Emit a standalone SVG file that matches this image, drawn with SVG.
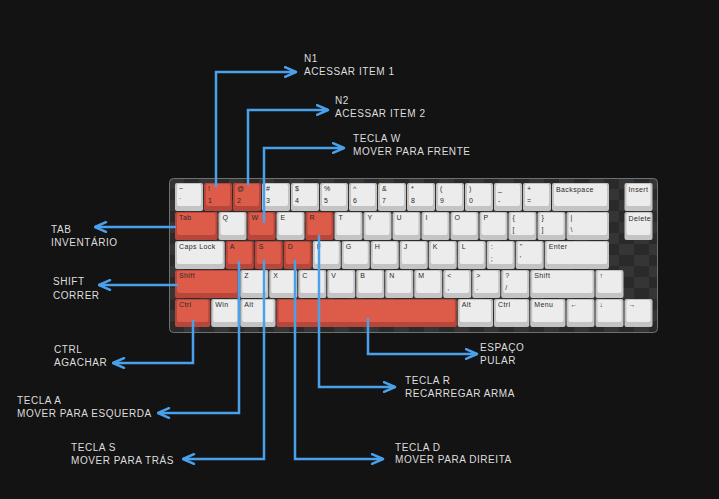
<svg xmlns="http://www.w3.org/2000/svg" width="719" height="499" viewBox="0 0 719 499">
<defs>
<style>
.w{fill:#c4c4c4}.wf{fill:#ececec}.r{fill:#b8463a}.rf{fill:#dc5b49}
.t{font-family:"Liberation Sans",Arial,sans-serif;font-size:7px;fill:#2a2a2a;letter-spacing:.4px}
.lb{font-family:"Liberation Sans",Arial,sans-serif;font-size:10px;fill:#dedede;letter-spacing:.55px}
.c{fill:none;stroke:#4aa0ea;stroke-width:2.5}
</style>
<pattern id="chk" x="169" y="178" width="30" height="22" patternUnits="userSpaceOnUse">
<rect width="30" height="22" fill="#2a2a2a"/>
<rect width="15" height="11" fill="#353535"/>
<rect x="15" y="11" width="15" height="11" fill="#353535"/>
</pattern>
<marker id="ah" viewBox="0 0 14 12" refX="12.5" refY="6" markerWidth="14" markerHeight="12" markerUnits="userSpaceOnUse" orient="auto">
<path d="M1.5,1.2 L12.5,6 L1.5,10.8" fill="none" stroke="#4aa0ea" stroke-width="2.5" stroke-linecap="round" stroke-linejoin="round"/>
</marker>
</defs>
<rect width="719" height="499" fill="#131313"/>
<g id="keyboard">
<rect x="169.5" y="178.5" width="488" height="154" rx="4" fill="url(#chk)" stroke="#707070" stroke-width="1"/>
<!-- Row 1 -->
<g id="k-grave" transform="translate(175,183)"><rect class="w" width="28" height="28" rx="2"/><rect class="wf" x="2" y="1" width="24" height="22" rx="2"/><text class="t" x="4" y="8">~</text><text class="t" x="4" y="20">`</text></g>
<g id="k-1" transform="translate(204,183)"><rect class="r" width="28" height="28" rx="2"/><rect class="rf" x="2" y="1" width="24" height="22" rx="2"/><text class="t" x="4" y="8">!</text><text class="t" x="4" y="20">1</text></g>
<g id="k-2" transform="translate(233,183)"><rect class="r" width="28" height="28" rx="2"/><rect class="rf" x="2" y="1" width="24" height="22" rx="2"/><text class="t" x="4" y="8">@</text><text class="t" x="4" y="20">2</text></g>
<g id="k-3" transform="translate(262,183)"><rect class="w" width="28" height="28" rx="2"/><rect class="wf" x="2" y="1" width="24" height="22" rx="2"/><text class="t" x="4" y="8">#</text><text class="t" x="4" y="20">3</text></g>
<g id="k-4" transform="translate(291,183)"><rect class="w" width="28" height="28" rx="2"/><rect class="wf" x="2" y="1" width="24" height="22" rx="2"/><text class="t" x="4" y="8">$</text><text class="t" x="4" y="20">4</text></g>
<g id="k-5" transform="translate(320,183)"><rect class="w" width="28" height="28" rx="2"/><rect class="wf" x="2" y="1" width="24" height="22" rx="2"/><text class="t" x="4" y="8">%</text><text class="t" x="4" y="20">5</text></g>
<g id="k-6" transform="translate(349,183)"><rect class="w" width="28" height="28" rx="2"/><rect class="wf" x="2" y="1" width="24" height="22" rx="2"/><text class="t" x="4" y="8">^</text><text class="t" x="4" y="20">6</text></g>
<g id="k-7" transform="translate(378,183)"><rect class="w" width="28" height="28" rx="2"/><rect class="wf" x="2" y="1" width="24" height="22" rx="2"/><text class="t" x="4" y="8">&amp;</text><text class="t" x="4" y="20">7</text></g>
<g id="k-8" transform="translate(407,183)"><rect class="w" width="28" height="28" rx="2"/><rect class="wf" x="2" y="1" width="24" height="22" rx="2"/><text class="t" x="4" y="8">*</text><text class="t" x="4" y="20">8</text></g>
<g id="k-9" transform="translate(436,183)"><rect class="w" width="28" height="28" rx="2"/><rect class="wf" x="2" y="1" width="24" height="22" rx="2"/><text class="t" x="4" y="8">(</text><text class="t" x="4" y="20">9</text></g>
<g id="k-0" transform="translate(465,183)"><rect class="w" width="28" height="28" rx="2"/><rect class="wf" x="2" y="1" width="24" height="22" rx="2"/><text class="t" x="4" y="8">)</text><text class="t" x="4" y="20">0</text></g>
<g id="k-minus" transform="translate(494,183)"><rect class="w" width="28" height="28" rx="2"/><rect class="wf" x="2" y="1" width="24" height="22" rx="2"/><text class="t" x="4" y="8">_</text><text class="t" x="4" y="20">-</text></g>
<g id="k-equal" transform="translate(523,183)"><rect class="w" width="28" height="28" rx="2"/><rect class="wf" x="2" y="1" width="24" height="22" rx="2"/><text class="t" x="4" y="8">+</text><text class="t" x="4" y="20">=</text></g>
<g id="k-backspace" transform="translate(552,183)"><rect class="w" width="57" height="28" rx="2"/><rect class="wf" x="2" y="1" width="53" height="22" rx="2"/><text class="t" x="4" y="8.5">Backspace</text></g>
<g id="k-insert" transform="translate(624.5,183)"><rect class="w" width="28" height="28" rx="2"/><rect class="wf" x="2" y="1" width="24" height="22" rx="2"/><text class="t" x="4" y="8.5">Insert</text></g>
<!-- Row 2 -->
<g id="k-tab" transform="translate(175,212)"><rect class="r" width="42.5" height="28" rx="2"/><rect class="rf" x="2" y="1" width="38.5" height="22" rx="2"/><text class="t" x="4" y="8">Tab</text></g>
<g id="k-q" transform="translate(218.5,212)"><rect class="w" width="28" height="28" rx="2"/><rect class="wf" x="2" y="1" width="24" height="22" rx="2"/><text class="t" x="4" y="8">Q</text></g>
<g id="k-w" transform="translate(247.5,212)"><rect class="r" width="28" height="28" rx="2"/><rect class="rf" x="2" y="1" width="24" height="22" rx="2"/><text class="t" x="4" y="8">W</text></g>
<g id="k-e" transform="translate(276.5,212)"><rect class="w" width="28" height="28" rx="2"/><rect class="wf" x="2" y="1" width="24" height="22" rx="2"/><text class="t" x="4" y="8">E</text></g>
<g id="k-r" transform="translate(305.5,212)"><rect class="r" width="28" height="28" rx="2"/><rect class="rf" x="2" y="1" width="24" height="22" rx="2"/><text class="t" x="4" y="8">R</text></g>
<g id="k-t" transform="translate(334.5,212)"><rect class="w" width="28" height="28" rx="2"/><rect class="wf" x="2" y="1" width="24" height="22" rx="2"/><text class="t" x="4" y="8">T</text></g>
<g id="k-y" transform="translate(363.5,212)"><rect class="w" width="28" height="28" rx="2"/><rect class="wf" x="2" y="1" width="24" height="22" rx="2"/><text class="t" x="4" y="8">Y</text></g>
<g id="k-u" transform="translate(392.5,212)"><rect class="w" width="28" height="28" rx="2"/><rect class="wf" x="2" y="1" width="24" height="22" rx="2"/><text class="t" x="4" y="8">U</text></g>
<g id="k-i" transform="translate(421.5,212)"><rect class="w" width="28" height="28" rx="2"/><rect class="wf" x="2" y="1" width="24" height="22" rx="2"/><text class="t" x="4" y="8">I</text></g>
<g id="k-o" transform="translate(450.5,212)"><rect class="w" width="28" height="28" rx="2"/><rect class="wf" x="2" y="1" width="24" height="22" rx="2"/><text class="t" x="4" y="8">O</text></g>
<g id="k-p" transform="translate(479.5,212)"><rect class="w" width="28" height="28" rx="2"/><rect class="wf" x="2" y="1" width="24" height="22" rx="2"/><text class="t" x="4" y="8">P</text></g>
<g id="k-lbracket" transform="translate(508.5,212)"><rect class="w" width="28" height="28" rx="2"/><rect class="wf" x="2" y="1" width="24" height="22" rx="2"/><text class="t" x="4" y="8">{</text><text class="t" x="4" y="20">[</text></g>
<g id="k-rbracket" transform="translate(537.5,212)"><rect class="w" width="28" height="28" rx="2"/><rect class="wf" x="2" y="1" width="24" height="22" rx="2"/><text class="t" x="4" y="8">}</text><text class="t" x="4" y="20">]</text></g>
<g id="k-backslash" transform="translate(566.5,212)"><rect class="w" width="42.5" height="28" rx="2"/><rect class="wf" x="2" y="1" width="38.5" height="22" rx="2"/><text class="t" x="4" y="8">|</text><text class="t" x="4" y="20">\</text></g>
<g id="k-delete" transform="translate(624.5,212)"><rect class="w" width="28" height="28" rx="2"/><rect class="wf" x="2" y="1" width="24" height="22" rx="2"/><text class="t" x="4" y="8.5">Delete</text></g>
<!-- Row 3 -->
<g id="k-caps" transform="translate(175,241)"><rect class="w" width="49.75" height="28" rx="2"/><rect class="wf" x="2" y="1" width="45.75" height="22" rx="2"/><text class="t" x="4" y="8">Caps Lock</text></g>
<g id="k-a" transform="translate(225.75,241)"><rect class="r" width="28" height="28" rx="2"/><rect class="rf" x="2" y="1" width="24" height="22" rx="2"/><text class="t" x="4" y="8">A</text></g>
<g id="k-s" transform="translate(254.75,241)"><rect class="r" width="28" height="28" rx="2"/><rect class="rf" x="2" y="1" width="24" height="22" rx="2"/><text class="t" x="4" y="8">S</text></g>
<g id="k-d" transform="translate(283.75,241)"><rect class="r" width="28" height="28" rx="2"/><rect class="rf" x="2" y="1" width="24" height="22" rx="2"/><text class="t" x="4" y="8">D</text></g>
<g id="k-f" transform="translate(312.75,241)"><rect class="w" width="28" height="28" rx="2"/><rect class="wf" x="2" y="1" width="24" height="22" rx="2"/><text class="t" x="4" y="8">F</text></g>
<g id="k-g" transform="translate(341.75,241)"><rect class="w" width="28" height="28" rx="2"/><rect class="wf" x="2" y="1" width="24" height="22" rx="2"/><text class="t" x="4" y="8">G</text></g>
<g id="k-h" transform="translate(370.75,241)"><rect class="w" width="28" height="28" rx="2"/><rect class="wf" x="2" y="1" width="24" height="22" rx="2"/><text class="t" x="4" y="8">H</text></g>
<g id="k-j" transform="translate(399.75,241)"><rect class="w" width="28" height="28" rx="2"/><rect class="wf" x="2" y="1" width="24" height="22" rx="2"/><text class="t" x="4" y="8">J</text></g>
<g id="k-k" transform="translate(428.75,241)"><rect class="w" width="28" height="28" rx="2"/><rect class="wf" x="2" y="1" width="24" height="22" rx="2"/><text class="t" x="4" y="8">K</text></g>
<g id="k-l" transform="translate(457.75,241)"><rect class="w" width="28" height="28" rx="2"/><rect class="wf" x="2" y="1" width="24" height="22" rx="2"/><text class="t" x="4" y="8">L</text></g>
<g id="k-semicolon" transform="translate(486.75,241)"><rect class="w" width="28" height="28" rx="2"/><rect class="wf" x="2" y="1" width="24" height="22" rx="2"/><text class="t" x="4" y="8">:</text><text class="t" x="4" y="20">;</text></g>
<g id="k-quote" transform="translate(515.75,241)"><rect class="w" width="28" height="28" rx="2"/><rect class="wf" x="2" y="1" width="24" height="22" rx="2"/><text class="t" x="4" y="8">"</text><text class="t" x="4" y="20">'</text></g>
<g id="k-enter" transform="translate(544.75,241)"><rect class="w" width="64.25" height="28" rx="2"/><rect class="wf" x="2" y="1" width="60.25" height="22" rx="2"/><text class="t" x="4" y="8">Enter</text></g>
<!-- Row 4 -->
<g id="k-lshift" transform="translate(175,270)"><rect class="r" width="64.25" height="28" rx="2"/><rect class="rf" x="2" y="1" width="60.25" height="22" rx="2"/><text class="t" x="4" y="8">Shift</text></g>
<g id="k-z" transform="translate(240.25,270)"><rect class="w" width="28" height="28" rx="2"/><rect class="wf" x="2" y="1" width="24" height="22" rx="2"/><text class="t" x="4" y="8">Z</text></g>
<g id="k-x" transform="translate(269.25,270)"><rect class="w" width="28" height="28" rx="2"/><rect class="wf" x="2" y="1" width="24" height="22" rx="2"/><text class="t" x="4" y="8">X</text></g>
<g id="k-c" transform="translate(298.25,270)"><rect class="w" width="28" height="28" rx="2"/><rect class="wf" x="2" y="1" width="24" height="22" rx="2"/><text class="t" x="4" y="8">C</text></g>
<g id="k-v" transform="translate(327.25,270)"><rect class="w" width="28" height="28" rx="2"/><rect class="wf" x="2" y="1" width="24" height="22" rx="2"/><text class="t" x="4" y="8">V</text></g>
<g id="k-b" transform="translate(356.25,270)"><rect class="w" width="28" height="28" rx="2"/><rect class="wf" x="2" y="1" width="24" height="22" rx="2"/><text class="t" x="4" y="8">B</text></g>
<g id="k-n" transform="translate(385.25,270)"><rect class="w" width="28" height="28" rx="2"/><rect class="wf" x="2" y="1" width="24" height="22" rx="2"/><text class="t" x="4" y="8">N</text></g>
<g id="k-m" transform="translate(414.25,270)"><rect class="w" width="28" height="28" rx="2"/><rect class="wf" x="2" y="1" width="24" height="22" rx="2"/><text class="t" x="4" y="8">M</text></g>
<g id="k-comma" transform="translate(443.25,270)"><rect class="w" width="28" height="28" rx="2"/><rect class="wf" x="2" y="1" width="24" height="22" rx="2"/><text class="t" x="4" y="8">&lt;</text><text class="t" x="4" y="20">,</text></g>
<g id="k-period" transform="translate(472.25,270)"><rect class="w" width="28" height="28" rx="2"/><rect class="wf" x="2" y="1" width="24" height="22" rx="2"/><text class="t" x="4" y="8">&gt;</text><text class="t" x="4" y="20">.</text></g>
<g id="k-slash" transform="translate(501.25,270)"><rect class="w" width="28" height="28" rx="2"/><rect class="wf" x="2" y="1" width="24" height="22" rx="2"/><text class="t" x="4" y="8">?</text><text class="t" x="4" y="20">/</text></g>
<g id="k-rshift" transform="translate(530.25,270)"><rect class="w" width="64.25" height="28" rx="2"/><rect class="wf" x="2" y="1" width="60.25" height="22" rx="2"/><text class="t" x="4" y="8">Shift</text></g>
<g id="k-up" transform="translate(595.5,270)"><rect class="w" width="28" height="28" rx="2"/><rect class="wf" x="2" y="1" width="24" height="22" rx="2"/><text class="t" x="4" y="8">↑</text></g>
<!-- Row 5 -->
<g id="k-lctrl" transform="translate(175,299)"><rect class="r" width="35.25" height="28" rx="2"/><rect class="rf" x="2" y="1" width="31.25" height="22" rx="2"/><text class="t" x="4" y="8">Ctrl</text></g>
<g id="k-win" transform="translate(211.25,299)"><rect class="w" width="28" height="28" rx="2"/><rect class="wf" x="2" y="1" width="24" height="22" rx="2"/><text class="t" x="4" y="8">Win</text></g>
<g id="k-lalt" transform="translate(240.25,299)"><rect class="w" width="35.25" height="28" rx="2"/><rect class="wf" x="2" y="1" width="31.25" height="22" rx="2"/><text class="t" x="4" y="8">Alt</text></g>
<g id="k-space" transform="translate(276.5,299)"><rect class="r" width="180.25" height="28" rx="2"/><rect class="rf" x="2" y="1" width="176.25" height="22" rx="2"/></g>
<g id="k-ralt" transform="translate(457.75,299)"><rect class="w" width="35.25" height="28" rx="2"/><rect class="wf" x="2" y="1" width="31.25" height="22" rx="2"/><text class="t" x="4" y="8">Alt</text></g>
<g id="k-rctrl" transform="translate(494,299)"><rect class="w" width="35.25" height="28" rx="2"/><rect class="wf" x="2" y="1" width="31.25" height="22" rx="2"/><text class="t" x="4" y="8">Ctrl</text></g>
<g id="k-menu" transform="translate(530.25,299)"><rect class="w" width="35.25" height="28" rx="2"/><rect class="wf" x="2" y="1" width="31.25" height="22" rx="2"/><text class="t" x="4" y="8">Menu</text></g>
<g id="k-left" transform="translate(566.5,299)"><rect class="w" width="28" height="28" rx="2"/><rect class="wf" x="2" y="1" width="24" height="22" rx="2"/><text class="t" x="4" y="8">←</text></g>
<g id="k-down" transform="translate(595.5,299)"><rect class="w" width="28" height="28" rx="2"/><rect class="wf" x="2" y="1" width="24" height="22" rx="2"/><text class="t" x="4" y="8">↓</text></g>
<g id="k-right" transform="translate(624.5,299)"><rect class="w" width="28" height="28" rx="2"/><rect class="wf" x="2" y="1" width="24" height="22" rx="2"/><text class="t" x="4" y="8">→</text></g>
</g>
<g id="connectors">
<path class="c" d="M216,187 V72 H296" marker-end="url(#ah)"/>
<path class="c" d="M248,185 V110 H328" marker-end="url(#ah)"/>
<path class="c" d="M264,223 V148 H344" marker-end="url(#ah)"/>
<path class="c" d="M176,227 H95" marker-end="url(#ah)"/>
<path class="c" d="M178,285 H99" marker-end="url(#ah)"/>
<path class="c" d="M193,320 V363 H113" marker-end="url(#ah)"/>
<path class="c" d="M239,261 V413 H158" marker-end="url(#ah)"/>
<path class="c" d="M264,260 V459 H183" marker-end="url(#ah)"/>
<path class="c" d="M295,260 V459 H383" marker-end="url(#ah)"/>
<path class="c" d="M319,235 V387 H395" marker-end="url(#ah)"/>
<path class="c" d="M368,318 V354 H477" marker-end="url(#ah)"/>
</g>
<g id="label-n1"><text class="lb" x="304" y="62">N1</text><text class="lb" x="304" y="75">ACESSAR ITEM 1</text></g>
<g id="label-n2"><text class="lb" x="335" y="104">N2</text><text class="lb" x="335" y="117">ACESSAR ITEM 2</text></g>
<g id="label-w"><text class="lb" x="353" y="142">TECLA W</text><text class="lb" x="353" y="155">MOVER PARA FRENTE</text></g>
<g id="label-tab"><text class="lb" x="51" y="233">TAB</text><text class="lb" x="51" y="246">INVENTÁRIO</text></g>
<g id="label-shift"><text class="lb" x="53" y="285">SHIFT</text><text class="lb" x="53" y="299">CORRER</text></g>
<g id="label-ctrl"><text class="lb" x="54" y="353">CTRL</text><text class="lb" x="54" y="366">AGACHAR</text></g>
<g id="label-a"><text class="lb" x="17" y="404">TECLA A</text><text class="lb" x="17" y="417">MOVER PARA ESQUERDA</text></g>
<g id="label-s"><text class="lb" x="71" y="451">TECLA S</text><text class="lb" x="71" y="464">MOVER PARA TRÁS</text></g>
<g id="label-d"><text class="lb" x="395" y="451">TECLA D</text><text class="lb" x="395" y="463">MOVER PARA DIREITA</text></g>
<g id="label-r"><text class="lb" x="405" y="384">TECLA R</text><text class="lb" x="405" y="397">RECARREGAR ARMA</text></g>
<g id="label-space"><text class="lb" x="480" y="351">ESPAÇO</text><text class="lb" x="480" y="364">PULAR</text></g>
</svg>
